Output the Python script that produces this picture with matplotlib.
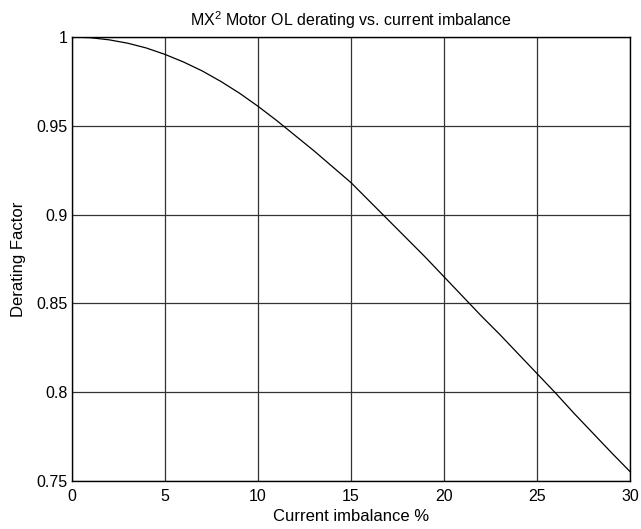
import matplotlib.pyplot as plt

imbalance = list(range(0, 31))
derating = [1.0, 0.9996, 0.9984, 0.9965, 0.9938, 0.9902, 0.9859, 0.9809, 0.9750, 0.9684,
            0.9610, 0.9530, 0.9445, 0.9360, 0.9270, 0.9180, 0.9075, 0.8970, 0.8865, 0.8760,
            0.8650, 0.8540, 0.8430, 0.8325, 0.8215, 0.8105, 0.7995, 0.7880, 0.7770, 0.7660,
            0.7553]
xticks = [0, 5, 10, 15, 20, 25, 30]
yticks = [0.75, 0.8, 0.85, 0.9, 0.95, 1]
ytick_labels = ["0.75", "0.8", "0.85", "0.9", "0.95", "1"]

plt.rcParams['font.family'] = ['Liberation Sans', 'DejaVu Sans']
plt.rcParams['mathtext.fontset'] = 'custom'
plt.rcParams['mathtext.rm'] = 'Liberation Sans'

fig = plt.figure(figsize=(6.41, 5.29), dpi=100)
ax = fig.add_axes([72 / 641, 48 / 529, 558 / 641, 444 / 529])

ax.plot(imbalance, derating, color='black', linewidth=0.9)
ax.set_xlim(0, 30)
ax.set_ylim(0.75, 1)
ax.set_xticks(xticks)
ax.set_yticks(yticks)
ax.set_yticklabels(ytick_labels)
ax.grid(True, color='#333333', linewidth=0.9, linestyle='-')
ax.tick_params(direction='in', length=0, labelsize=11.5)
ax.tick_params(axis='x', pad=6)
ax.tick_params(axis='y', pad=3)
for s in ax.spines.values():
    s.set_linewidth(1.0)

ax.set_xlabel("Current imbalance %", fontsize=12)
ax.set_ylabel("Derating Factor", fontsize=12)
ax.xaxis.set_label_coords(0.5, -0.064)
ax.yaxis.set_label_coords(-0.083, 0.5)
ax.set_title(r"MX$^{\mathregular{2}}$ Motor OL derating vs. current imbalance", fontsize=11.5, pad=8)

fig.savefig("out.png", dpi=100)
